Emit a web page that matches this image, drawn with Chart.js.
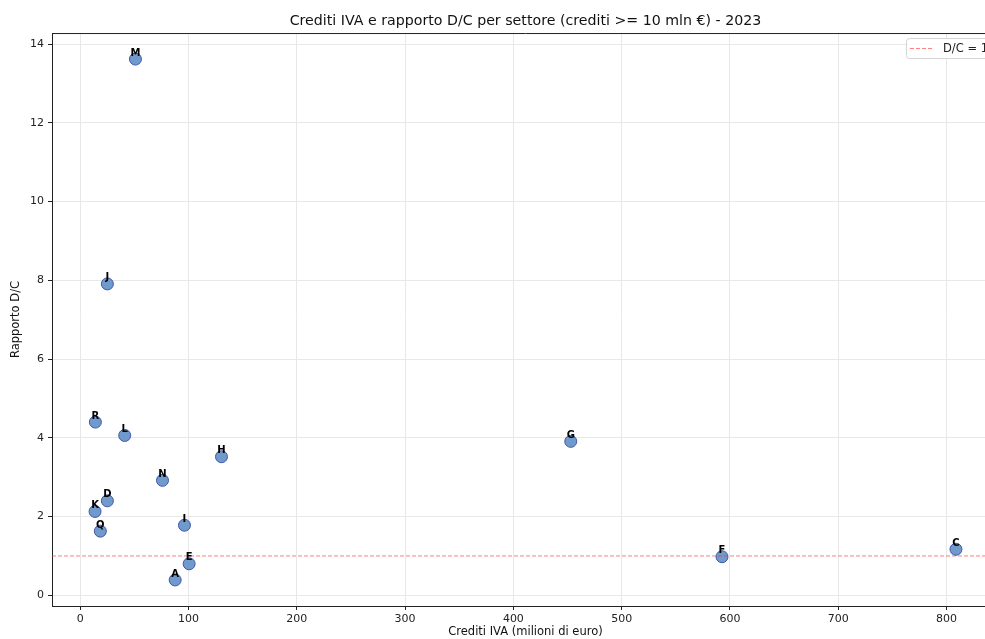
<!DOCTYPE html>
<html>
<head>
<meta charset="utf-8">
<script src="https://cdn.jsdelivr.net/npm/chart.js@4"></script>
<style>
  html, body { margin: 0; padding: 0; background: #fff; overflow: hidden; width: 985px; height: 639px; }
  #wrap { position: relative; width: 1051px; height: 639px; }
</style>
</head>
<body>
<div id="wrap"><canvas id="c" width="1051" height="639"></canvas></div>
<script>
// Settori ATECO con crediti IVA >= 10 mln €, anno 2023
const sectors = ['A', 'C', 'D', 'E', 'F', 'G', 'H', 'I', 'J', 'K', 'L', 'M', 'N', 'Q', 'R'];
const credits = [87.6, 808.8, 25.0, 100.5, 592.7, 453.0, 130.4, 96.2, 25.0, 13.6, 41.0, 50.9, 75.9, 18.5, 13.9];
const ratios  = [0.39, 1.17, 2.40, 0.80, 0.98, 3.91, 3.52, 1.78, 7.91, 2.13, 4.06, 13.62, 2.92, 1.63, 4.40];

// Soglia di riferimento D/C = 1
const refRatio = 1;
const refLabel = 'D/C = 1';

const xTicks = [0, 100, 200, 300, 400, 500, 600, 700, 800];
const yTicks = [0, 2, 4, 6, 8, 10, 12, 14];

const titleText = 'Crediti IVA e rapporto D/C per settore (crediti >= 10 mln €) - 2023';
const xTitle = 'Crediti IVA (milioni di euro)';
const yTitle = 'Rapporto D/C';

// Limiti degli assi con un margine del 5% sui dati
function padded(values) {
  const lo = Math.min(...values), hi = Math.max(...values);
  const m = (hi - lo) * 0.05;
  return [lo - m, hi + m];
}
const [xMin, xMax] = padded(credits);
const [yMin, yMax] = padded(ratios);

const FONT = 'DejaVu Sans';
const tickFont = { family: FONT, size: 11 };
const axisTitleFont = { family: FONT, size: 11.5 };

const points = credits.map((c, i) => ({ x: c, y: ratios[i] }));

// Etichette dei settori sopra ogni punto
const sectorLabels = {
  id: 'sectorLabels',
  afterDatasetsDraw(chart) {
    const meta = chart.getDatasetMeta(1);
    const ctx = chart.ctx;
    ctx.save();
    ctx.font = 'bold 10px ' + FONT;
    ctx.fillStyle = '#000';
    ctx.textAlign = 'center';
    ctx.textBaseline = 'middle';
    meta.data.forEach((el, i) => ctx.fillText(sectors[i], el.x, el.y - 6));
    ctx.restore();
  }
};

// Cornice superiore e destra del pannello
const frame = {
  id: 'frame',
  afterDraw(chart) {
    const { ctx, chartArea: a } = chart;
    ctx.save();
    ctx.strokeStyle = '#222';
    ctx.lineWidth = 1;
    ctx.beginPath();
    ctx.moveTo(a.left, a.top + 0.5);
    ctx.lineTo(a.right, a.top + 0.5);
    ctx.moveTo(a.right - 0.5, a.top);
    ctx.lineTo(a.right - 0.5, a.bottom);
    ctx.stroke();
    ctx.restore();
  }
};

// Legenda nell'angolo in alto a destra del pannello
const cornerLegend = {
  id: 'cornerLegend',
  afterDraw(chart) {
    const { ctx, chartArea: a } = chart;
    const ds = chart.data.datasets[0];
    ctx.save();
    ctx.font = '11.5px ' + FONT;
    const tw = ctx.measureText(ds.label).width;
    const h = 20, w = 4 + 23 + 10 + tw + 6;
    const x = a.right - 5 - w, y = a.top + 5;
    ctx.fillStyle = 'rgba(255,255,255,0.85)';
    ctx.strokeStyle = '#d4d4d4';
    ctx.lineWidth = 1;
    ctx.beginPath();
    ctx.roundRect(x + 0.5, y + 0.5, w, h, 3);
    ctx.fill();
    ctx.stroke();
    ctx.strokeStyle = ds.borderColor;
    ctx.setLineDash(ds.borderDash);
    ctx.beginPath();
    ctx.moveTo(x + 4, y + h / 2 + 0.5);
    ctx.lineTo(x + 27, y + h / 2 + 0.5);
    ctx.stroke();
    ctx.setLineDash([]);
    ctx.fillStyle = '#222';
    ctx.textBaseline = 'middle';
    ctx.fillText(ds.label, x + 37, y + h / 2 + 1);
    ctx.restore();
  }
};

new Chart(document.getElementById('c'), {
  data: {
    datasets: [
      {
        type: 'line',
        label: refLabel,
        data: [{ x: xMin, y: refRatio }, { x: xMax, y: refRatio }],
        borderColor: 'rgba(255,40,40,0.6)',
        borderWidth: 1,
        borderDash: [4, 2],
        pointRadius: 0,
        order: 0
      },
      {
        type: 'scatter',
        label: 'Settori',
        data: points,
        backgroundColor: '#7099cc',
        borderColor: '#4058a8',
        borderWidth: 1,
        pointRadius: 6,
        order: 1
      }
    ]
  },
  options: {
    responsive: false,
    animation: false,
    layout: { padding: { left: 0, right: 52, top: 0, bottom: 0 } },
    plugins: {
      legend: { display: false },
      tooltip: { enabled: false },
      title: {
        display: true,
        fullSize: false,
        text: titleText,
        color: '#111',
        font: { family: FONT, size: 14.2, weight: 'normal' },
        padding: { top: 12.5, bottom: 3.5 }
      }
    },
    scales: {
      x: {
        type: 'linear',
        min: xMin,
        max: xMax,
        afterBuildTicks: s => { s.ticks = xTicks.map(v => ({ value: v })); },
        afterFit: s => { s.height = 33; },
        ticks: { font: tickFont, color: '#222', padding: 2.5, maxRotation: 0 },
        grid: { color: '#e8e8e8', lineWidth: 1, tickColor: '#222', tickLength: 4 },
        border: { color: '#222', width: 1 },
        title: { display: true, text: xTitle, color: '#111', font: axisTitleFont, padding: { top: 0, bottom: 0 } }
      },
      y: {
        type: 'linear',
        min: yMin,
        max: yMax,
        afterBuildTicks: s => { s.ticks = yTicks.map(v => ({ value: v })); },
        afterFit: s => { s.width = 52; },
        ticks: { font: tickFont, color: '#222', padding: 4 },
        grid: { color: '#e8e8e8', lineWidth: 1, tickColor: '#222', tickLength: 4 },
        border: { color: '#222', width: 1 },
        title: { display: true, text: yTitle, color: '#111', font: axisTitleFont, padding: { top: 9, bottom: 0 } }
      }
    }
  },
  plugins: [sectorLabels, frame, cornerLegend]
});
</script>
</body>
</html>
